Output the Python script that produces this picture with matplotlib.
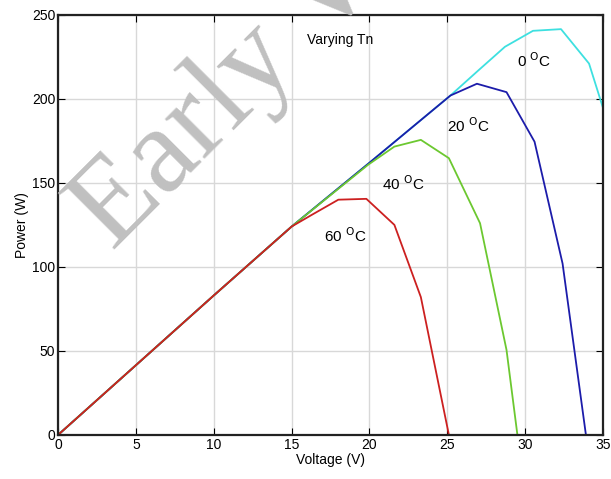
import matplotlib
matplotlib.use("Agg")
import matplotlib.pyplot as plt

plt.rcParams['font.family'] = ['Liberation Sans', 'DejaVu Sans']

# PV power curves, one per cell temperature
v_0c = [0, 5, 10, 15, 20, 25.2, 27.0, 28.7, 30.5, 32.3, 34.1, 35.0]
p_0c = [0, 41.5, 83, 124, 162, 202, 217, 231, 240.5, 241.5, 221, 194.5]

v_20c = [0, 5, 10, 15, 20, 25.2, 26.9, 28.8, 30.6, 32.4, 33.9]
p_20c = [0, 41.5, 83, 124, 162, 202, 209, 204, 174.5, 102, 0]

v_40c = [0, 5, 10, 15, 19.9, 21.6, 23.3, 25.1, 27.1, 28.8, 29.5]
p_40c = [0, 41.5, 83, 124, 160.7, 171.6, 175.6, 164.7, 126, 50.6, 0]

v_60c = [0, 5, 10, 15, 16.3, 18.0, 19.8, 21.6, 23.3, 25.1]
p_60c = [0, 41.5, 83, 124, 131, 140, 140.5, 125, 82, 0]

xticks = [0, 5, 10, 15, 20, 25, 30, 35]
yticks = [0, 50, 100, 150, 200, 250]

fig = plt.figure(figsize=(6.11, 4.79), dpi=100)
ax = fig.add_axes([0.095, 0.092, 0.892, 0.877])

ax.plot(v_0c, p_0c, color='#3ee0e0', lw=1.3)
ax.plot(v_20c, p_20c, color='#1c1caa', lw=1.3)
ax.plot(v_40c, p_40c, color='#6cc830', lw=1.3)
ax.plot(v_60c, p_60c, color='#cc2020', lw=1.3)

ax.set_xlim(0, 35)
ax.set_ylim(0, 250)
ax.set_xticks(xticks)
ax.set_yticks(yticks)
ax.grid(True, color='#d8d8d8', lw=1)
ax.set_axisbelow(True)
ax.tick_params(direction='in', top=True, right=True, labelsize=10, length=5, pad=2)
for s in ax.spines.values():
    s.set_linewidth(1.6)
    s.set_color('#222222')

ax.set_xlabel('Voltage (V)', fontsize=10, labelpad=1)
ax.set_ylabel('Power (W)', fontsize=10, labelpad=2)

ax.text(18.1, 235, 'Varying Tn', fontsize=10, ha='center', va='center')
ax.text(29.5, 219, '0 $^{\\mathrm{O}}$C', fontsize=11, va='baseline')
ax.text(25.0, 180, '20 $^{\\mathrm{O}}$C', fontsize=11, va='baseline')
ax.text(20.8, 146, '40 $^{\\mathrm{O}}$C', fontsize=11, va='baseline')
ax.text(17.1, 115, '60 $^{\\mathrm{O}}$C', fontsize=11, va='baseline')

# watermark
fig.text(0.185, 0.474, 'Early View', fontsize=88, family='Liberation Serif',
         color='#c0c0c0', rotation=45, rotation_mode='anchor',
         ha='left', va='baseline', zorder=10)

fig.savefig('out.png', dpi=100)
